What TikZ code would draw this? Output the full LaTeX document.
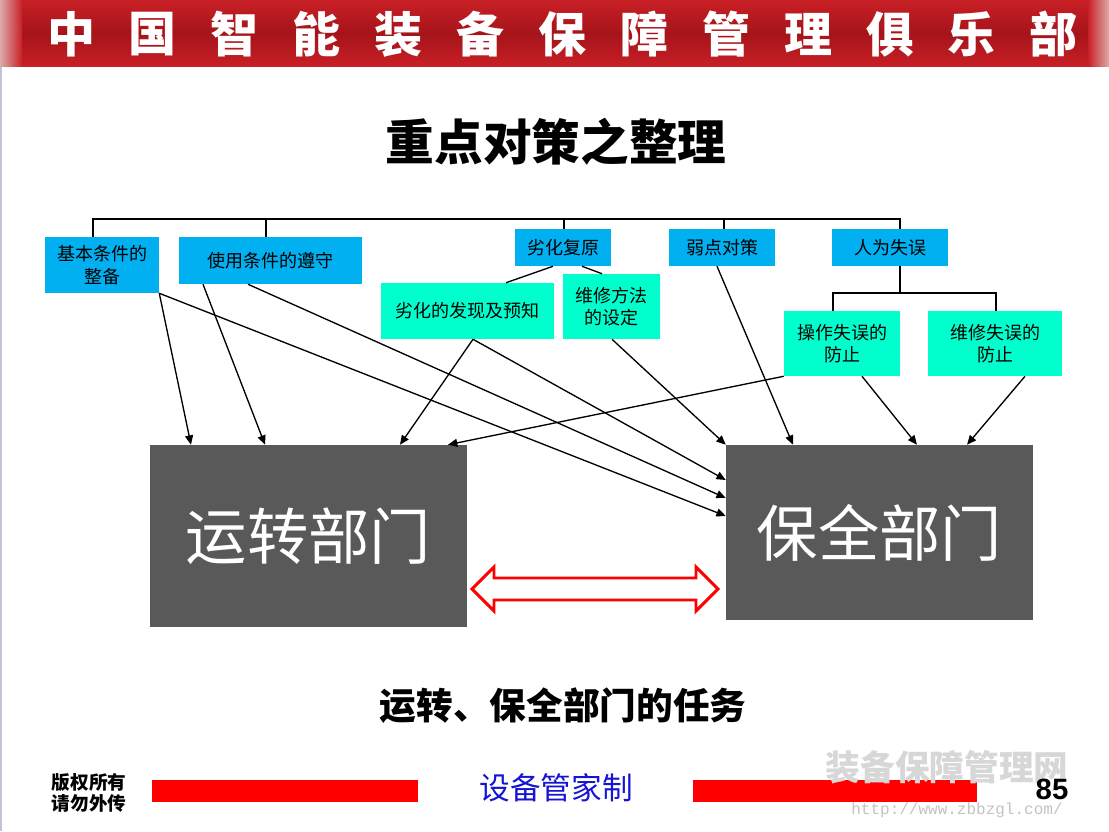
\documentclass[tikz,border=0pt]{standalone}
\usepackage{fontspec}
\setmainfont{Noto Sans CJK SC}
\newfontfamily\lsans{Liberation Sans}
\newfontfamily\lmono{Liberation Mono}
\usetikzlibrary{arrows.meta,fit}
\definecolor{boxblue}{RGB}{0,176,240}
\definecolor{boxgreen}{RGB}{0,255,204}
\definecolor{boxgrey}{RGB}{89,89,89}
\definecolor{hdrred}{RGB}{200,32,38}
\definecolor{hdrdark}{RGB}{165,20,26}
\definecolor{hdredge}{RGB}{220,170,170}
\definecolor{footblue}{RGB}{20,20,210}
\definecolor{wmgrey}{RGB}{215,215,215}
\definecolor{urlgrey}{RGB}{195,195,195}
\definecolor{leftline}{RGB}{195,195,215}
\begin{document}
\begin{tikzpicture}[x=0.75pt,y=-0.75pt,
  boxtext/.style={inner sep=0pt, align=center, font=\fontsize{13.5}{17}\selectfont},
  bluebox/.style={fill=boxblue, inner sep=0pt},
  greenbox/.style={fill=boxgreen, inner sep=0pt},
  depttext/.style={inner sep=0pt, text=white, font=\fontsize{46}{50}\selectfont},
  deptbox/.style={fill=boxgrey, inner sep=0pt},
  tree/.style={line width=1.5pt, black},
  plainline/.style={line width=1pt, black},
  arr/.style={line width=1pt, black, -{Triangle[length=7pt,width=6pt]}},
  hdrtxt/.style={text=white, inner sep=0pt, font=\fontsize{36}{40}\selectfont\bfseries},
]
\useasboundingbox[fill=white] (0,0) rectangle (1109,831);

% header banner
\shade[top color=hdrred, bottom color=hdrred, middle color=hdrdark] (0,0) rectangle (1109,67);
\shade[left color=hdredge, right color=hdrred] (0,0) rectangle (22,67);
\shade[left color=hdrred, right color=hdredge] (1088,0) rectangle (1109,67);
\foreach \c [count=\i from 0] in {中,国,智,能,装,备,保,障,管,理,俱,乐,部}
  \node[hdrtxt] (h\i) at ({71+81.9*\i},34) {\c};
\draw[leftline, line width=1.5pt] (1,67) -- (1,831);

% title
\node[font=\fontsize{36.5}{40}\selectfont\bfseries, inner sep=0pt] (title) at (556,142) {重点对策之整理};

% boxes
\node[bluebox, fit={(45,237) (159,293)}, label={[boxtext]center:基本条件的\\整备}] (jiben) {};
\node[bluebox, fit={(179,237) (362,284)}, label={[boxtext]center:使用条件的遵守}] (shiyong) {};
\node[bluebox, fit={(515,229) (611,266)}, label={[boxtext]center:劣化复原}] (liehua) {};
\node[bluebox, fit={(669,229) (775,266)}, label={[boxtext]center:弱点对策}] (ruodian) {};
\node[bluebox, fit={(832,229) (948,266)}, label={[boxtext]center:人为失误}] (renwei) {};
\node[greenbox, fit={(381,283) (554,339)}, label={[boxtext]center:劣化的发现及预知}] (faxian) {};
\node[greenbox, fit={(563,274) (660,339)}, label={[boxtext]center:维修方法\\的设定}] (fangfa) {};
\node[greenbox, fit={(784,311) (900,376)}, label={[boxtext]center:操作失误的\\防止}] (caozuo) {};
\node[greenbox, fit={(928,311) (1062,376)}, label={[boxtext]center:维修失误的\\防止}] (weixiushi) {};
\node[deptbox, fit={(150,445) (467,627)}, label={[depttext]center:运转部门}] (yun) {};
\node[deptbox, fit={(726,445) (1033,620)}, label={[depttext]center:保全部门}] (bao) {};

% tree lines
\coordinate (busL) at (93,219);
\coordinate (busB) at (266,219);
\coordinate (busC) at (564,219);
\coordinate (busD) at (724,219);
\coordinate (busR) at (900,219);
\coordinate (subL) at (833,293);
\coordinate (subR) at (996,293);
\draw[tree] (jiben.north -| busL) -- (busL) -- (busR) -- (renwei.north -| busR);
\draw[tree] (shiyong.north -| busB) -- (busB);
\draw[tree] (liehua.north -| busC) -- (busC);
\draw[tree] (ruodian.north -| busD) -- (busD);
\draw[tree] (renwei.south -| busR) -- (busR |- subL);
\draw[tree] (caozuo.north -| subL) -- (subL) -- (subR) -- (weixiushi.north -| subR);

% lines from 劣化复原
\coordinate (la) at (553,0);
\coordinate (lb) at (506,0);
\coordinate (lc) at (582,0);
\coordinate (ld) at (602,0);
\draw[plainline] (liehua.south -| la) -- (faxian.north -| lb);
\draw[plainline] (liehua.south -| lc) -- (fangfa.north -| ld);

% arrow anchor coordinates
\coordinate (sA) at (203,0);
\coordinate (sB) at (248,0);
\coordinate (sC) at (473,0);
\coordinate (sD) at (612,0);
\coordinate (sE) at (717,0);
\coordinate (sF) at (862,0);
\coordinate (sG) at (1025,0);
\coordinate (tA) at (191,0);
\coordinate (tB) at (265,0);
\coordinate (tC) at (400,0);
\coordinate (tD) at (448,0);
\coordinate (tE) at (793,0);
\coordinate (tF) at (917,0);
\coordinate (tG) at (967,0);
\coordinate (yA) at (0,480);
\coordinate (yB) at (0,498);
\coordinate (yC) at (0,516);

\draw[arr] (jiben.south east) -- (yun.north -| tA);
\draw[arr] (jiben.south east) -- (bao.west |- yC);
\draw[arr] (shiyong.south -| sA) -- (yun.north -| tB);
\draw[arr] (shiyong.south -| sB) -- (bao.west |- yB);
\draw[arr] (faxian.south -| sC) -- (yun.north -| tC);
\draw[arr] (faxian.south -| sC) -- (bao.west |- yA);
\draw[arr] (fangfa.south -| sD) -- (bao.north west);
\draw[arr] (ruodian.south -| sE) -- (bao.north -| tE);
\draw[arr] (caozuo.south west) -- (yun.north -| tD);
\draw[arr] (caozuo.south -| sF) -- (bao.north -| tF);
\draw[arr] (weixiushi.south -| sG) -- (bao.north -| tG);

% red double arrow
\draw[red, line width=2.2pt, fill=white, line join=miter]
  (472,589) -- (494,567) -- (494,578) -- (696,578) -- (696,567) -- (718,589)
  -- (696,611) -- (696,600) -- (494,600) -- (494,611) -- cycle;

% subtitle
\node[font=\fontsize{27.5}{30}\selectfont\bfseries, inner sep=0pt] (task) at (563,706) {运转、保全部门的任务};

% footer
\node[font=\fontsize{14}{15.75}\selectfont\bfseries, align=left, inner sep=0pt] (copy) at (89,793) {版权所有\\请勿外传};
\fill[red] (152,780) rectangle (418,802);
\fill[red] (693,780) rectangle (977,802);
\node[text=footblue, font=\fontsize{23}{25}\selectfont, inner sep=0pt] (foot) at (556,788) {设备管家制};
\node[text=wmgrey, font=\fontsize{26}{28}\selectfont\bfseries, inner sep=0pt] (wm) at (947,767) {装备保障管理网};
\node[text=urlgrey, font=\lmono\fontsize{12}{13}\selectfont, inner sep=0pt] (url) at (957,810) {http://www.zbbzgl.com/};
\node[font=\lsans\bfseries\fontsize{22}{24}\selectfont, inner sep=0pt] (pg) at (1052,789) {85};
\end{tikzpicture}
\end{document}
